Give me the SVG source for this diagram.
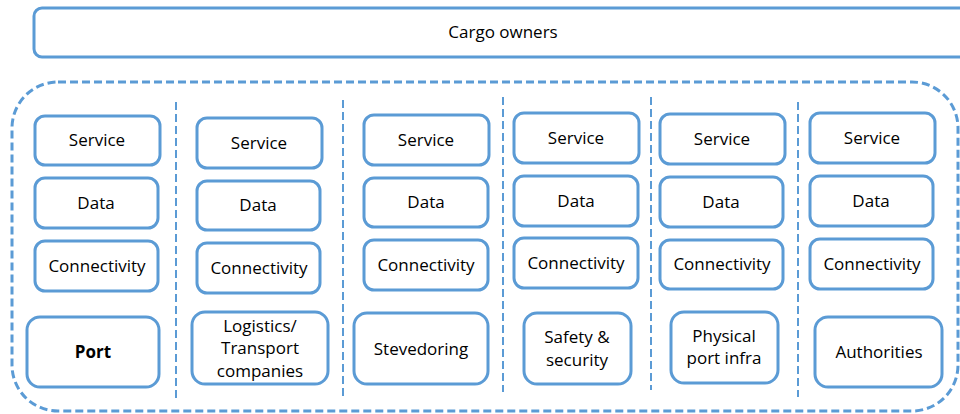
<svg xmlns="http://www.w3.org/2000/svg" width="960" height="414" viewBox="0 0 960 414">
<style>
.b{fill:#fff;stroke:#5B9BD5;stroke-width:3}
.t{font-family:"Open Sans","Liberation Sans",sans-serif;font-size:17px;fill:#000;text-anchor:middle}
.sep{stroke:#5B9BD5;stroke-width:2;stroke-dasharray:8 4;fill:none}
</style>
<rect width="960" height="414" fill="#fff"/>
<g id="cargo-owners">
<rect class="b" x="34" y="8" width="945" height="49" rx="8"/>
<text class="t" x="503" y="38">Cargo owners</text>
</g>
<g id="container">
<rect x="12" y="82" width="946" height="329" rx="46" fill="none" stroke="#5B9BD5" stroke-width="3" stroke-dasharray="8 4"/>
</g>
<g id="connectors">
<line class="sep" x1="176" y1="102" x2="176" y2="398"/>
<line class="sep" x1="343" y1="100" x2="343" y2="398"/>
<line class="sep" x1="503" y1="97" x2="503" y2="392"/>
<line class="sep" x1="651" y1="97" x2="651" y2="390"/>
<line class="sep" x1="798" y1="102" x2="798" y2="397"/>
</g>
<g id="col1">
<g id="c1-service"><rect class="b" x="35" y="116" width="125" height="49" rx="10"/><text class="t" x="97" y="146">Service</text></g>
<g id="c1-data"><rect class="b" x="35" y="178" width="123" height="50" rx="10"/><text class="t" x="96" y="209">Data</text></g>
<g id="c1-conn"><rect class="b" x="35" y="241" width="123" height="50" rx="10"/><text class="t" x="97" y="272">Connectivity</text></g>
<g id="port"><rect class="b" x="27" y="317" width="132" height="70" rx="13"/><text class="t" x="93" y="358" font-weight="bold">Port</text></g>
</g>
<g id="col2">
<g id="c2-service"><rect class="b" x="197" y="118" width="125" height="50" rx="10"/><text class="t" x="259" y="149">Service</text></g>
<g id="c2-data"><rect class="b" x="197" y="181" width="123" height="49" rx="10"/><text class="t" x="258" y="211">Data</text></g>
<g id="c2-conn"><rect class="b" x="197" y="243" width="123" height="50" rx="10"/><text class="t" x="259" y="274">Connectivity</text></g>
<g id="logistics"><rect class="b" x="192" y="312" width="136" height="72" rx="13"/><text class="t" x="260" y="332">Logistics/</text><text class="t" x="260" y="354">Transport</text><text class="t" x="260" y="377">companies</text></g>
</g>
<g id="col3">
<g id="c3-service"><rect class="b" x="364" y="115" width="125" height="50" rx="10"/><text class="t" x="426" y="146">Service</text></g>
<g id="c3-data"><rect class="b" x="364" y="178" width="124" height="49" rx="10"/><text class="t" x="426" y="208">Data</text></g>
<g id="c3-conn"><rect class="b" x="364" y="240" width="124" height="50" rx="10"/><text class="t" x="426" y="271">Connectivity</text></g>
<g id="stevedoring"><rect class="b" x="354" y="313" width="134" height="71" rx="13"/><text class="t" x="421" y="355">Stevedoring</text></g>
</g>
<g id="col4">
<g id="c4-service"><rect class="b" x="514" y="113" width="125" height="50" rx="10"/><text class="t" x="576" y="144">Service</text></g>
<g id="c4-data"><rect class="b" x="514" y="176" width="124" height="50" rx="10"/><text class="t" x="576" y="207">Data</text></g>
<g id="c4-conn"><rect class="b" x="514" y="238" width="124" height="50" rx="10"/><text class="t" x="576" y="269">Connectivity</text></g>
<g id="safety"><rect class="b" x="524" y="313" width="107" height="71" rx="13"/><text class="t" x="577" y="343">Safety &amp;</text><text class="t" x="577" y="366">security</text></g>
</g>
<g id="col5">
<g id="c5-service"><rect class="b" x="660" y="114" width="125" height="50" rx="10"/><text class="t" x="722" y="145">Service</text></g>
<g id="c5-data"><rect class="b" x="660" y="177" width="123" height="50" rx="10"/><text class="t" x="721" y="208">Data</text></g>
<g id="c5-conn"><rect class="b" x="660" y="240" width="123" height="49" rx="10"/><text class="t" x="722" y="270">Connectivity</text></g>
<g id="physical"><rect class="b" x="671" y="312" width="107" height="71" rx="13"/><text class="t" x="724" y="342">Physical</text><text class="t" x="724" y="364">port infra</text></g>
</g>
<g id="col6">
<g id="c6-service"><rect class="b" x="810" y="113" width="125" height="50" rx="10"/><text class="t" x="872" y="144">Service</text></g>
<g id="c6-data"><rect class="b" x="810" y="176" width="123" height="50" rx="10"/><text class="t" x="871" y="207">Data</text></g>
<g id="c6-conn"><rect class="b" x="810" y="239" width="123" height="50" rx="10"/><text class="t" x="872" y="270">Connectivity</text></g>
<g id="authorities"><rect class="b" x="815" y="317" width="127" height="70" rx="13"/><text class="t" x="879" y="358">Authorities</text></g>
</g>
</svg>
